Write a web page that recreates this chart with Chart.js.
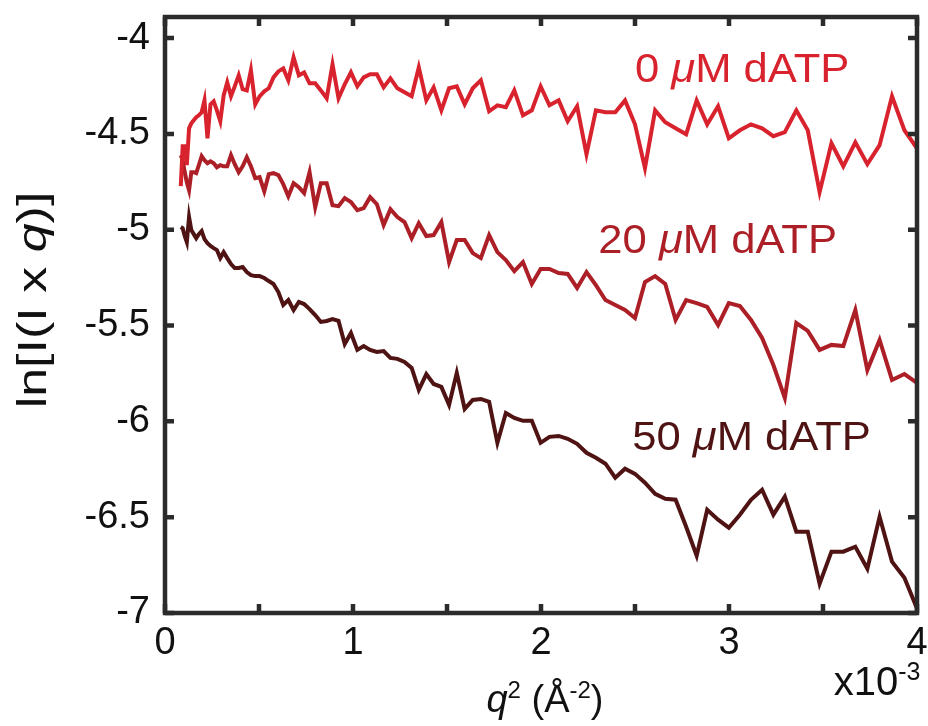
<!DOCTYPE html>
<html>
<head>
<meta charset="utf-8">
<script src="https://cdn.jsdelivr.net/npm/chart.js@4/dist/chart.umd.min.js"></script>
<style>
  html, body { margin: 0; padding: 0; background: #fff; }
  #wrap { width: 928px; height: 726px; }
</style>
</head>
<body>
<div id="wrap"><canvas id="chart" width="928" height="726"></canvas></div>
<script>
// q^2 in units of 1e-3 Å^-2
const q2 = [
    0.084, 0.094, 0.105, 0.116, 0.128, 0.140, 0.153, 0.166, 0.180, 0.195,
    0.210, 0.226, 0.242, 0.259, 0.276, 0.294, 0.312, 0.331, 0.351, 0.371,
    0.392, 0.413, 0.435, 0.457, 0.480, 0.503, 0.528, 0.552, 0.577, 0.603,
    0.629, 0.656, 0.684, 0.712, 0.740, 0.769, 0.799, 0.829, 0.860, 0.891,
    0.923, 0.956, 0.989, 1.023, 1.057, 1.091, 1.127, 1.163, 1.199, 1.236,
    1.274, 1.312, 1.350, 1.390, 1.429, 1.470, 1.511, 1.552, 1.594, 1.637,
    1.680, 1.724, 1.768, 1.813, 1.858, 1.904, 1.951, 1.998, 2.045, 2.094,
    2.142, 2.192, 2.242, 2.292, 2.343, 2.395, 2.447, 2.500, 2.553, 2.607,
    2.661, 2.716, 2.772, 2.828, 2.884, 2.942, 2.999, 3.058, 3.117, 3.176,
    3.236, 3.297, 3.358, 3.419, 3.482, 3.545, 3.608, 3.672, 3.736, 3.801,
    3.867, 3.933, 4.000
];

const dATP0 = [
    -4.773, -4.564, -4.564, -4.663, -4.471, -4.445, -4.429, -4.413, -4.403, -4.387,
    -4.325, -4.523, -4.346, -4.330, -4.377, -4.434, -4.299, -4.231, -4.304, -4.252,
    -4.194, -4.267, -4.273, -4.168, -4.346, -4.304, -4.278, -4.262, -4.205, -4.174,
    -4.158, -4.220, -4.101, -4.194, -4.179, -4.236, -4.236, -4.273, -4.314, -4.137,
    -4.314, -4.241, -4.179, -4.252, -4.205, -4.189, -4.189, -4.257, -4.210, -4.262,
    -4.283, -4.304, -4.153, -4.325, -4.257, -4.377, -4.262, -4.252, -4.346, -4.262,
    -4.220, -4.382, -4.351, -4.361, -4.273, -4.403, -4.377, -4.252, -4.351, -4.325,
    -4.434, -4.356, -4.606, -4.377, -4.387, -4.387, -4.325, -4.450, -4.679, -4.377,
    -4.439, -4.471, -4.502, -4.325, -4.450, -4.356, -4.523, -4.481, -4.450, -4.471,
    -4.512, -4.491, -4.377, -4.481, -4.804, -4.549, -4.669, -4.544, -4.658, -4.559,
    -4.304, -4.481, -4.575
];

const dATP20 = [
    -4.611, -4.637, -4.700, -4.752, -4.794, -4.700, -4.700, -4.705, -4.663, -4.616,
    -4.637, -4.653, -4.643, -4.653, -4.674, -4.663, -4.669, -4.669, -4.611, -4.658,
    -4.700, -4.669, -4.622, -4.669, -4.731, -4.726, -4.799, -4.710, -4.705, -4.715,
    -4.762, -4.825, -4.757, -4.778, -4.809, -4.700, -4.882, -4.757, -4.757, -4.872,
    -4.877, -4.835, -4.856, -4.898, -4.887, -4.830, -4.867, -4.976, -4.893, -4.934,
    -4.960, -5.044, -4.966, -5.033, -5.028, -4.960, -5.169, -5.054, -5.054, -5.122,
    -5.148, -5.028, -5.117, -5.158, -5.216, -5.169, -5.283, -5.205, -5.205, -5.226,
    -5.231, -5.304, -5.221, -5.289, -5.367, -5.393, -5.419, -5.461, -5.273, -5.242,
    -5.283, -5.471, -5.367, -5.383, -5.403, -5.497, -5.383, -5.398, -5.471, -5.565,
    -5.706, -5.878, -5.487, -5.528, -5.627, -5.601, -5.607, -5.419, -5.732, -5.575,
    -5.784, -5.753, -5.799
];

const dATP50 = [
    -4.986, -4.992, -5.033, -5.065, -4.934, -5.002, -5.023, -5.044, -5.023, -5.007,
    -5.049, -5.070, -5.085, -5.096, -5.106, -5.148, -5.117, -5.148, -5.179, -5.200,
    -5.200, -5.195, -5.221, -5.237, -5.242, -5.242, -5.252, -5.268, -5.283, -5.325,
    -5.393, -5.367, -5.419, -5.377, -5.388, -5.414, -5.445, -5.481, -5.476, -5.466,
    -5.476, -5.596, -5.539, -5.627, -5.607, -5.627, -5.638, -5.633, -5.669, -5.674,
    -5.690, -5.721, -5.836, -5.753, -5.805, -5.820, -5.914, -5.747, -5.935, -5.888,
    -5.883, -5.898, -6.112, -5.956, -5.982, -5.997, -5.997, -6.112, -6.081, -6.076,
    -6.091, -6.117, -6.164, -6.190, -6.221, -6.294, -6.247, -6.274, -6.320, -6.378,
    -6.404, -6.409, -6.550, -6.701, -6.461, -6.513, -6.555, -6.487, -6.409, -6.357,
    -6.487, -6.393, -6.576, -6.576, -6.847, -6.680, -6.680, -6.654, -6.769, -6.498,
    -6.732, -6.816, -6.977
];

const seriesNames = ['0 μM dATP', '20 μM dATP', '50 μM dATP'];
const xTicks = [0, 0.5, 1, 1.5, 2, 2.5, 3, 3.5, 4];
const yTicks = [-7, -6.5, -6, -5.5, -5, -4.5, -4];

const colors = ['#d8232e', '#ad1f27', '#4f1313'];
const FONT = "'Liberation Sans', Arial, Helvetica, sans-serif";

// where each curve label sits, in data units (centre x, baseline y)
const labelSpots = [[3.07, -4.23], [2.94, -5.12], [3.12, -6.15]];

// draws runs of differently styled text centred on (cx, cy); sx stretches horizontally
function drawRuns(ctx, runs, cx, cy, sx = 1) {
    let total = 0;
    runs.forEach(r => { ctx.font = r.font; r.w = ctx.measureText(r.t).width; total += r.w; });
    ctx.save();
    ctx.translate(cx, cy);
    ctx.scale(sx, 1);
    let x = -total / 2;
    runs.forEach(r => {
        ctx.font = r.font;
        ctx.fillText(r.t, x, r.dy || 0);
        x += r.w;
    });
    ctx.restore();
}

const frameAndText = {
    id: 'frameAndText',
    afterDraw(chart) {
        const { ctx, chartArea: a, scales: { x, y } } = chart;
        ctx.save();

        // box + inward ticks
        ctx.strokeStyle = '#2b2b2b';
        ctx.lineWidth = 4.5;
        ctx.strokeRect(a.left, a.top, a.right - a.left, a.bottom - a.top);
        ctx.beginPath();
        xTicks.forEach(v => {
            const px = x.getPixelForValue(v);
            ctx.moveTo(px, a.bottom); ctx.lineTo(px, a.bottom - 9);
            ctx.moveTo(px, a.top); ctx.lineTo(px, a.top + 9);
        });
        yTicks.forEach(v => {
            const py = y.getPixelForValue(v);
            ctx.moveTo(a.left, py); ctx.lineTo(a.left + 9, py);
            ctx.moveTo(a.right, py); ctx.lineTo(a.right - 9, py);
        });
        ctx.stroke();

        // curve labels
        ctx.textBaseline = 'alphabetic';
        seriesNames.forEach((name, i) => {
            const parts = name.split('μ');
            ctx.fillStyle = colors[i];
            drawRuns(ctx, [
                { t: parts[0], font: `40px ${FONT}` },
                { t: 'μ', font: `italic 40px ${FONT}` },
                { t: parts[1], font: `40px ${FONT}` }
            ], x.getPixelForValue(labelSpots[i][0]), y.getPixelForValue(labelSpots[i][1]), 1.09);
        });

        // axis titles
        ctx.fillStyle = '#111';
        const f = `38px ${FONT}`, fi = `italic 38px ${FONT}`, fs = `24px ${FONT}`;
        drawRuns(ctx, [
            { t: 'q', font: fi },
            { t: '2', font: fs, dy: -14 },
            { t: ' (Å', font: f },
            { t: '-2', font: fs, dy: -14 },
            { t: ')', font: f }
        ], 545, 712);

        drawRuns(ctx, [
            { t: 'x10', font: `40px ${FONT}` },
            { t: '-3', font: `25px ${FONT}`, dy: -15 }
        ], 877, 695);

        ctx.translate(46, 300);
        ctx.rotate(-Math.PI / 2);
        drawRuns(ctx, [
            { t: 'ln[I(I x ', font: `40px ${FONT}` },
            { t: 'q', font: `italic 40px ${FONT}` },
            { t: ')]', font: `40px ${FONT}` }
        ], 0, 0, 1.3);

        ctx.restore();
    }
};

const datasets = [dATP0, dATP20, dATP50].map((vals, i) => ({
    label: seriesNames[i],
    data: q2.map((q, j) => ({ x: q, y: vals[j] })),
    borderColor: colors[i],
    borderWidth: 4,
    pointRadius: 0,
    tension: 0,
    showLine: true,
    fill: false
}));

new Chart(document.getElementById('chart'), {
    type: 'scatter',
    data: { datasets },
    options: {
        responsive: false,
        animation: false,
        layout: { padding: { left: 0, top: 17, right: 11, bottom: 0 } },
        plugins: { legend: { display: false }, tooltip: { enabled: false } },
        scales: {
            x: {
                type: 'linear',
                min: 0,
                max: 4,
                afterBuildTicks: s => { s.ticks = xTicks.map(v => ({ value: v })); },
                afterFit: s => { s.height = 113; s.paddingLeft = 0; s.paddingRight = 0; },
                grid: { display: false, drawTicks: false },
                border: { display: false },
                ticks: {
                    padding: 8,
                    color: '#111',
                    font: { family: FONT, size: 38 },
                    callback: v => Number.isInteger(v) ? String(v) : ''
                }
            },
            y: {
                type: 'linear',
                min: -7,
                max: -3.89,
                afterBuildTicks: s => { s.ticks = yTicks.map(v => ({ value: v })); },
                afterFit: s => { s.width = 165; s.paddingTop = 0; s.paddingBottom = 0; },
                grid: { display: false, drawTicks: false },
                border: { display: false },
                ticks: {
                    padding: 15,
                    color: '#111',
                    font: { family: FONT, size: 38 },
                    callback: v => String(v)
                }
            }
        }
    },
    plugins: [frameAndText]
});
</script>
</body>
</html>
